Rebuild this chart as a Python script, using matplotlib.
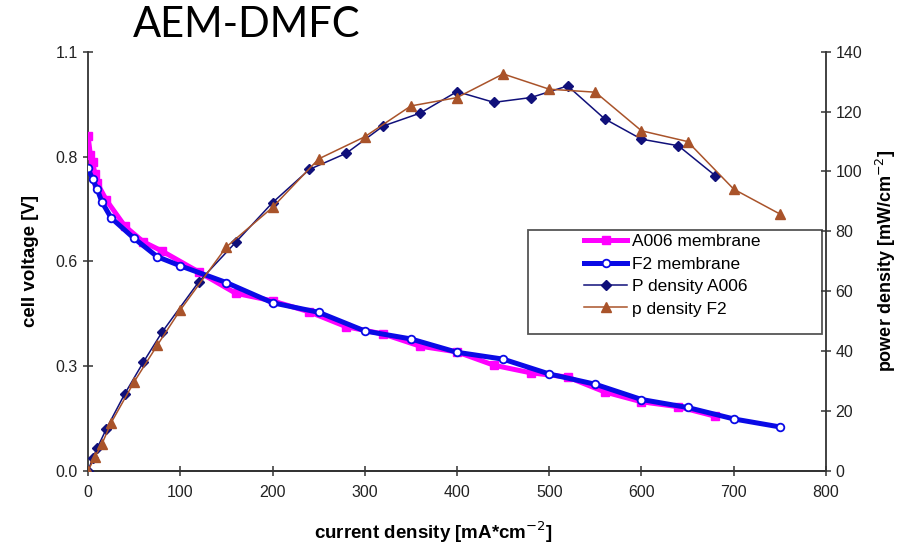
import numpy as np
import matplotlib
matplotlib.use('Agg')
import matplotlib.pyplot as plt
from matplotlib.ticker import FormatStrFormatter, MultipleLocator
from matplotlib.patches import Rectangle

plt.rcParams['font.family'] = ['Liberation Sans', 'DejaVu Sans']

# cell voltage, A006 membrane
i_a006 = [0, 2.5, 5, 7.5, 10, 20, 40, 60, 80, 120, 160, 200, 240, 280, 320, 360, 400, 440, 480, 520, 560, 600, 640, 680]
v_a006 = [0.88, 0.83, 0.81, 0.78, 0.755, 0.71, 0.642, 0.601, 0.577, 0.522, 0.466, 0.446, 0.417, 0.378, 0.359,
          0.327, 0.312, 0.277, 0.257, 0.246, 0.207, 0.181, 0.168, 0.143]

# cell voltage, F2 membrane
i_f2 = [0, 5, 10, 15, 25, 50, 75, 100, 150, 200, 250, 300, 350, 400, 450, 500, 550, 600, 650, 700, 750]
v_f2 = [0.794, 0.765, 0.739, 0.706, 0.664, 0.61, 0.562, 0.538, 0.494, 0.441, 0.416, 0.367, 0.346, 0.311,
        0.293, 0.254, 0.227, 0.187, 0.166, 0.136, 0.115]

# power density, A006
ip_a006 = [0, 5, 10, 20, 40, 60, 80, 120, 160, 200, 240, 280, 320, 360, 400, 440, 480, 520, 560, 600, 640, 680]
p_a006 = [0, 4.1, 7.6, 14.1, 25.8, 36.3, 46.2, 63.1, 76.3, 89.6, 100.7, 106.1, 115.2, 119.5, 126.7, 123.1,
          124.7, 128.6, 117.6, 110.8, 108.6, 98.6]

# power density, F2
ip_f2 = [0, 7.5, 15, 25, 50, 75, 100, 150, 200, 250, 300, 350, 400, 450, 500, 550, 600, 650, 700, 750]
p_f2 = [0, 4.6, 8.9, 16, 29.7, 41.9, 53.7, 74.8, 88, 104.2, 111.6, 121.9, 124.7, 132.6, 127.5, 126.5,
        113.6, 110, 94.1, 85.8]

C_MAG = '#ff00ff'
C_BLUE = '#0a0ae6'
C_NAVY = '#10107a'
C_BROWN = '#a9532a'
C_AX = '#333333'

fig = plt.figure(figsize=(9.02, 5.51), dpi=100)
ax = fig.add_axes([0.0976, 0.1457, 0.8181, 0.7603])
ax2 = ax.twinx()

l1, = ax.plot(i_a006, v_a006, color=C_MAG, lw=3.6, marker='s', ms=5.5, mfc=C_MAG, mec=C_MAG,
              label='A006 membrane', zorder=3)
l2, = ax.plot(i_f2, v_f2, color=C_BLUE, lw=3.6, marker='o', ms=5.5, mfc='white', mec=C_BLUE, mew=1.3,
              label='F2 membrane', zorder=4)
l3, = ax2.plot(ip_a006, p_a006, color=C_NAVY, lw=1.1, marker='D', ms=5, mfc=C_NAVY, mec=C_NAVY,
               label='P density A006', zorder=3)
l4, = ax2.plot(ip_f2, p_f2, color=C_BROWN, lw=1.1, marker='^', ms=6.5, mfc=C_BROWN, mec=C_BROWN,
               label='p density F2', zorder=3)

ax.set_xlim(0, 800)
ax.set_ylim(0, 1.1)
ax2.set_ylim(0, 140)
ax.xaxis.set_major_locator(MultipleLocator(100))
ax.set_yticks(np.arange(0, 1.1001, 0.275))
ax.yaxis.set_major_formatter(FormatStrFormatter('%.1f'))
ax2.yaxis.set_major_locator(MultipleLocator(20))

for a in (ax, ax2):
    a.spines['top'].set_visible(False)
    for s in a.spines.values():
        s.set_color(C_AX)
        s.set_linewidth(1.3)
    a.tick_params(direction='inout', length=7, width=1.1, color=C_AX, labelsize=11.5, labelcolor='#222222')
ax.spines['right'].set_visible(False)
ax2.spines['left'].set_visible(False)
ax.tick_params(axis='x', pad=7)
ax.tick_params(axis='y', pad=4)

ax.set_xlabel('current density [mA*cm$^{-2}$]', fontsize=13.5, fontweight='bold')
ax.xaxis.set_label_coords(0.4675, -0.117)
ax.set_ylabel('cell voltage [V]', fontsize=13.5, fontweight='bold', labelpad=12)
ax2.set_ylabel('power density [mW/cm$^{-2}$]', fontsize=13, fontweight='bold', labelpad=8)

# legend box
ax.add_patch(Rectangle((0.596, 0.326), 0.3986, 0.2485, transform=ax.transAxes, fill=True, fc='white',
                       ec='#555555', lw=1.3, zorder=5))
leg = ax.legend(handles=[l1, l2, l3, l4], loc='upper left', bbox_to_anchor=(0.6626, 0.5816),
                frameon=False, fontsize=12.5, handlelength=2.5, handletextpad=0.25, labelspacing=0.42,
                borderaxespad=0)
leg.set_zorder(6)

fig.text(0.147, 0.955, 'AEM-DMFC', fontsize=30, family='Lato', va='center', ha='left')

fig.savefig('out.png', dpi=100)
